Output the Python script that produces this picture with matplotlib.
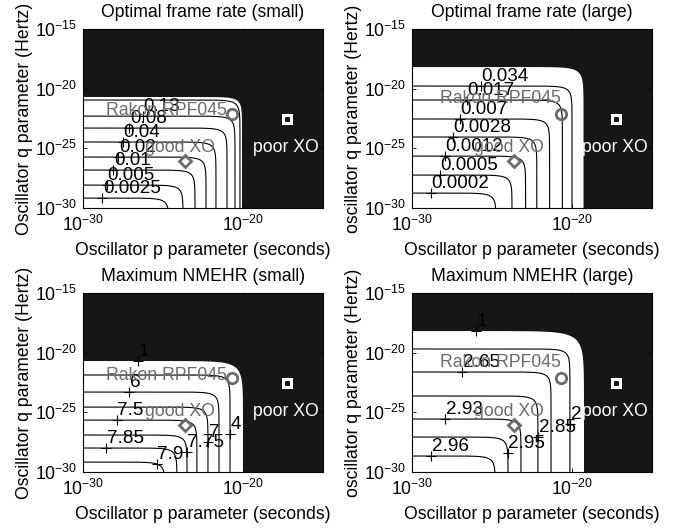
import numpy as np
import matplotlib
matplotlib.use('Agg')
import matplotlib.pyplot as plt
from matplotlib.ticker import NullLocator

plt.rcParams['font.family'] = ['Liberation Sans', 'DejaVu Sans']
plt.rcParams['font.size'] = 12.7
plt.rcParams['mathtext.fontset'] = 'custom'
plt.rcParams['mathtext.rm'] = 'Liberation Sans'

# oscillators, log10 p (seconds) and log10 q (Hertz)
osc_names = ['Rakon RPF045', 'good XO', 'poor XO']
osc_logp = [-20.67, -23.62, -17.25]
osc_logq = [-22.12, -26.06, -22.54]

# every contour is an L: log10 p where it turns down, log10 q where it runs flat
# None = contour drawn without a label
fr_small_levels = [0.0025, 0.005, 0.01, 0.02, 0.04, 0.08, 0.13, None]
fr_small_p = [-24.63, -23.75, -23.0, -22.31, -21.69, -21.0, -20.5, -20.19]
fr_small_q = [-29.17, -28.08, -26.82, -25.73, -24.47, -23.3, -22.3, -20.95]
fr_small_edge = [-20.06, -20.7]

fr_large_levels = [0.0002, 0.0005, 0.0012, 0.0028, 0.007, 0.017, 0.034]
fr_large_p = [-24.75, -23.75, -22.9, -22.2, -21.4, -20.6, -20.0]
fr_large_q = [-28.75, -27.24, -25.65, -24.05, -22.54, -20.95, -19.78]
fr_large_edge = [-19.28, -18.19]

nm_small_levels = [4, 6, 7, 7.5, 7.75, 7.85, 7.9]
nm_small_p = [-20.81, -21.5, -22.19, -22.88, -23.5, -24.13, -24.88]
nm_small_q = [-21.87, -23.3, -24.56, -25.65, -26.9, -27.99, -29.17]
nm_small_edge = [-20.0, -20.7]
nm_small_edge_level = 1

nm_large_levels = [2, 2.65, 2.85, 2.93, 2.95, 2.96]
nm_large_p = [-20.13, -21.31, -22.13, -23.19, -24.0, -24.8]
nm_large_q = [-19.69, -21.62, -23.63, -25.56, -27.07, -28.66]
nm_large_edge = [-19.25, -18.19]
nm_large_edge_level = 1

BLACK = '#161616'
GREY = '#6b6b6b'


def lcurve(P, Q, n=1.0):
    u = np.linspace(-40, 40, 1601)
    x = P - np.log10(1 + 10.0 ** (-u)) / n
    y = Q - np.log10(1 + 10.0 ** u) / n
    return x, y


def point_on(P, Q, where, n=1.0):
    kind, v = where
    if kind == 'h':
        return v, Q + np.log10(1 - 10.0 ** (n * (v - P))) / n
    return P + np.log10(1 - 10.0 ** (n * (v - Q))) / n, v


def clabel(ax, x, y, txt):
    ax.plot(10.0 ** x, 10.0 ** y, '+', color='k', ms=7, mew=0.8, zorder=4)
    ax.annotate(txt, (10.0 ** x, 10.0 ** y), xytext=(0.5, 3.5),
                textcoords='offset points', ha='left', va='baseline',
                fontsize=13.6, zorder=5)


def panel(rect, title, ylab, levels, P, Q, edge, edge_n, lab_at,
          edge_level=None, edge_lab=None, rakon_at=None):
    ax = fig.add_axes(rect)
    ax.set_facecolor(BLACK)
    ex, ey = lcurve(edge[0], edge[1], edge_n)
    ax.fill(np.r_[10.0 ** ex, 1e-80], np.r_[10.0 ** ey, 1e-80],
            color='white', lw=0, zorder=1)
    for k in range(len(levels)):
        cx, cy = lcurve(P[k], Q[k])
        ax.plot(10.0 ** cx, 10.0 ** cy, color='k', lw=0.8, zorder=2)
    for k in range(len(levels)):
        if levels[k] is None:
            continue
        x, y = point_on(P[k], Q[k], lab_at[k])
        clabel(ax, x, y, f'{levels[k]:g}')
    if edge_level is not None:
        x, y = point_on(edge[0], edge[1], edge_lab, edge_n)
        clabel(ax, x, y, f'{edge_level:g}')

    # oscillators
    ax.plot(10.0 ** osc_logp[0], 10.0 ** osc_logq[0], 'o', mfc='none',
            mec=GREY, ms=7.5, mew=2, zorder=6)
    ax.plot(10.0 ** osc_logp[1], 10.0 ** osc_logq[1], 'D', mfc='none',
            mec=GREY, ms=6.3, mew=2, zorder=6)
    ax.plot(10.0 ** osc_logp[2], 10.0 ** osc_logq[2], 's', mfc=BLACK,
            mec='white', ms=5.5, mew=2.2, zorder=6)
    ax.text(10.0 ** rakon_at[0], 10.0 ** rakon_at[1], osc_names[0],
            color=GREY, ha='right', va='center', zorder=6)
    ax.text(10.0 ** (osc_logp[1] - 0.35), 10.0 ** (osc_logq[1] + 1.1),
            osc_names[1], color=GREY, ha='center', va='center', zorder=6)
    ax.text(10.0 ** (osc_logp[2] - 0.1), 10.0 ** (osc_logq[2] - 2.4),
            osc_names[2], color='white', ha='center', va='center', zorder=6)

    ax.set_xscale('log')
    ax.set_yscale('log')
    ax.set_xlim(1e-30, 1e-15)
    ax.set_ylim(1e-30, 1e-15)
    ax.set_xticks([1e-30, 1e-20])
    ax.set_yticks([1e-30, 1e-25, 1e-20, 1e-15])
    ax.xaxis.set_minor_locator(NullLocator())
    ax.yaxis.set_minor_locator(NullLocator())
    ax.tick_params(direction='in', length=3, width=0.6, top=True, right=True,
                   labelsize=12.7)
    ax.tick_params(axis='x', pad=5)
    ax.tick_params(axis='y', pad=4)
    for s in ax.spines.values():
        s.set_linewidth(0.8)
        s.set_zorder(10)
    ax.set_title(title, fontsize=12.7, pad=8.5)
    ax.set_xlabel('Oscillator p parameter (seconds)', fontsize=12.7, labelpad=5)
    ax.set_ylabel(ylab, fontsize=12.7, labelpad=1.5)
    return ax


fig = plt.figure(figsize=(6.77, 5.28), dpi=100)

W, H = 240 / 677, 179 / 528
L1, L2 = 83 / 677, 412 / 677
B1, B2 = 1 - 208 / 528, 1 - 472 / 528

panel([L1, B1, W, H], 'Optimal frame rate (small)',
      'Oscillator q parameter (Hertz)',
      fr_small_levels, fr_small_p, fr_small_q, fr_small_edge, 1.0,
      [('h', -28.8), ('h', -28.5), ('h', -28.1), ('h', -27.8), ('h', -27.5),
       ('h', -27.1), ('h', -26.25), None],
      rakon_at=(-21.0, -21.85))

panel([L2, B1, W, H], 'Optimal frame rate (large)',
      'oscillator q parameter (Hertz)',
      fr_large_levels, fr_large_p, fr_large_q, fr_large_edge, 0.8,
      [('h', -28.81), ('h', -28.25), ('h', -27.94), ('h', -27.44),
       ('h', -27.0), ('h', -26.56), ('h', -25.69)],
      rakon_at=(-20.67, -20.8))

panel([L1, B2, W, H], 'Maximum NMEHR (small)',
      'Oscillator q parameter (Hertz)',
      nm_small_levels, nm_small_p, nm_small_q, nm_small_edge, 0.6,
      [('v', -26.8), ('h', -27.1), ('v', -27.5), ('h', -27.9),
       ('v', -28.33), ('h', -28.56), ('h', -25.4)],
      edge_level=nm_small_edge_level, edge_lab=('h', -26.56),
      rakon_at=(-21.0, -21.9))

panel([L2, B2, W, H], 'Maximum NMEHR (large)',
      'oscillator q parameter (Hertz)',
      nm_large_levels, nm_large_p, nm_large_q, nm_large_edge, 0.5,
      [('v', -25.98), ('h', -26.875), ('v', -27.07), ('h', -27.94),
       ('v', -28.41), ('h', -28.81)],
      edge_level=nm_large_edge_level, edge_lab=('h', -26.0),
      rakon_at=(-20.67, -20.8))

fig.savefig('out.png', dpi=100)
